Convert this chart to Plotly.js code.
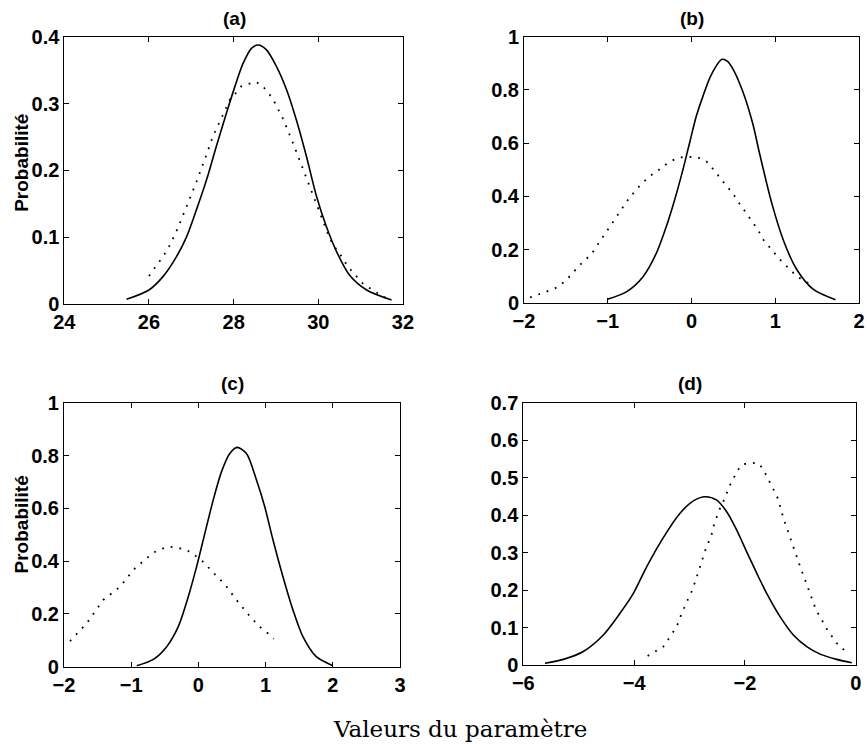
<!DOCTYPE html>
<html>
<head>
<meta charset="utf-8">
<script src="https://cdn.plot.ly/plotly-3.0.1.min.js"></script>
<style>html,body{margin:0;padding:0;background:#fff;}#chart{width:867px;height:744px;}</style>
</head>
<body>
<div id="chart"></div>
<script>
// Panel (a)
var aSolidX = [25.47, 26.0, 26.33, 26.65, 26.89, 27.12, 27.36, 27.59, 27.83, 28.03, 28.22, 28.42, 28.58, 28.77, 29.01, 29.25, 29.48, 29.72, 29.95, 30.19, 30.42, 30.74, 31.14, 31.73];
var aSolidY = [0.007, 0.021, 0.041, 0.071, 0.101, 0.141, 0.186, 0.236, 0.286, 0.326, 0.360, 0.383, 0.388, 0.381, 0.356, 0.321, 0.276, 0.221, 0.163, 0.116, 0.080, 0.043, 0.021, 0.006];
var aDotX = [26.0, 26.12, 26.24, 26.33, 26.44, 26.53, 26.69, 26.83, 26.96, 27.12, 27.32, 27.51, 27.67, 27.91, 28.05, 28.18, 28.52, 28.68, 28.92, 29.09, 29.17, 29.39, 29.48, 29.60, 29.68, 29.81, 29.87, 30.27, 30.38, 30.50, 30.70, 31.06, 31.53, 31.69];
var aDotY = [0.042, 0.052, 0.062, 0.071, 0.082, 0.093, 0.115, 0.137, 0.160, 0.183, 0.217, 0.251, 0.273, 0.306, 0.316, 0.326, 0.333, 0.327, 0.308, 0.288, 0.277, 0.243, 0.228, 0.210, 0.196, 0.176, 0.163, 0.098, 0.086, 0.076, 0.056, 0.030, 0.011, 0.007];
// Panel (b)
var bSolidX = [-1.004, -0.778, -0.579, -0.42, -0.301, -0.202, -0.104, -0.024, 0.056, 0.135, 0.234, 0.365, 0.43, 0.492, 0.611, 0.730, 0.81, 0.958, 1.098, 1.258, 1.459, 1.719];
var bSolidY = [0.014, 0.042, 0.099, 0.187, 0.287, 0.387, 0.499, 0.600, 0.700, 0.775, 0.856, 0.915, 0.907, 0.880, 0.795, 0.675, 0.565, 0.375, 0.235, 0.125, 0.05, 0.0125];
var bDotX = [-1.928, -1.83, -1.647, -1.571, -1.452, -1.333, -1.194, -1.083, -0.976, -0.857, -0.738, -0.627, -0.508, -0.381, -0.262, -0.143, 0.056, 0.175, 0.274, 0.393, 0.492, 0.571, 0.670, 0.789, 0.858, 1.058, 1.258, 1.459];
var bDotY = [0.021, 0.031, 0.0525, 0.065, 0.101, 0.143, 0.184, 0.237, 0.287, 0.339, 0.397, 0.437, 0.474, 0.502, 0.531, 0.547, 0.549, 0.533, 0.497, 0.449, 0.412, 0.374, 0.330, 0.277, 0.2375, 0.1625, 0.1, 0.0625];
// Panel (c)
var cSolidX = [-0.917, -0.67, -0.472, -0.3, -0.151, -0.027, 0.096, 0.22, 0.344, 0.467, 0.576, 0.715, 0.864, 0.987, 1.11, 1.258, 1.407, 1.555, 1.754, 2.0];
var cSolidY = [0.004, 0.028, 0.076, 0.152, 0.265, 0.379, 0.505, 0.631, 0.739, 0.808, 0.831, 0.808, 0.707, 0.606, 0.480, 0.341, 0.215, 0.114, 0.038, 0.004];
var cDotX = [-1.911, -1.663, -1.415, -1.165, -1.016, -0.942, -0.671, -0.561, -0.438, -0.215, -0.111, 0.082, 0.160, 0.319, 0.408, 0.556, 0.626, 0.705, 0.779, 0.864, 0.953, 1.036, 1.12];
var cDotY = [0.097, 0.164, 0.253, 0.303, 0.351, 0.373, 0.432, 0.445, 0.455, 0.446, 0.433, 0.395, 0.373, 0.328, 0.307, 0.256, 0.234, 0.208, 0.187, 0.164, 0.142, 0.126, 0.105];
// Panel (d)
var dSolidX = [-5.609, -5.278, -4.917, -4.556, -4.255, -4.014, -3.774, -3.473, -3.171, -2.931, -2.72, -2.509, -2.329, -2.148, -1.968, -1.787, -1.607, -1.366, -1.126, -0.884, -0.644, -0.343, -0.072];
var dSolidY = [0.0044, 0.015, 0.036, 0.08, 0.138, 0.191, 0.262, 0.340, 0.405, 0.438, 0.449, 0.440, 0.409, 0.360, 0.302, 0.245, 0.191, 0.129, 0.080, 0.049, 0.029, 0.015, 0.006];
var dDotX = [-3.756, -3.473, -3.232, -3.141, -3.02, -2.949, -2.859, -2.769, -2.69, -2.612, -2.552, -2.437, -2.372, -2.269, -2.13, -2.04, -1.776, -1.679, -1.547, -1.415, -1.294, -1.155, -1.018, -0.915, -0.812, -0.716, -0.505, -0.343, -0.224, -0.116];
var dDotY = [0.024, 0.049, 0.102, 0.138, 0.178, 0.200, 0.240, 0.280, 0.318, 0.342, 0.378, 0.423, 0.442, 0.480, 0.520, 0.536, 0.540, 0.525, 0.488, 0.448, 0.387, 0.326, 0.269, 0.227, 0.187, 0.147, 0.092, 0.058, 0.042, 0.029];

var panelTitles = ['(a)', '(b)', '(c)', '(d)'];
var yTitle = 'Probabilité';
var xTitle = 'Valeurs du paramètre';

var SANS = 'Liberation Sans, Arial, Helvetica, sans-serif';
var tickFont = {family: SANS, size: 20, color: '#000', weight: 'bold'};

function solid(x, y, xa, ya) {
  return {x: x, y: y, xaxis: xa, yaxis: ya, mode: 'lines', line: {color: '#000', width: 1.6, shape: 'spline', smoothing: 0.8}, hoverinfo: 'skip', showlegend: false};
}
function dotted(x, y, xa, ya) {
  return {x: x, y: y, xaxis: xa, yaxis: ya, mode: 'lines', line: {color: '#000', width: 1.8, dash: '1.8px,7px'}, hoverinfo: 'skip', showlegend: false};
}

var data = [
  solid(aSolidX, aSolidY, 'x', 'y'), dotted(aDotX, aDotY, 'x', 'y'),
  solid(bSolidX, bSolidY, 'x2', 'y2'), dotted(bDotX, bDotY, 'x2', 'y2'),
  solid(cSolidX, cSolidY, 'x3', 'y3'), dotted(cDotX, cDotY, 'x3', 'y3'),
  solid(dSolidX, dSolidY, 'x4', 'y4'), dotted(dDotX, dDotY, 'x4', 'y4')
];

function ax(domain, range, dtick, anchor) {
  return {
    domain: domain, range: range, dtick: dtick, tick0: 0, anchor: anchor,
    showgrid: false, zeroline: false, showline: true, linecolor: '#000', linewidth: 1,
    mirror: 'ticks', ticks: 'inside', ticklen: 5, tickwidth: 1, tickcolor: '#000',
    tickfont: tickFont, fixedrange: true
  };
}

function title(t, x, y, angle, font) {
  return {text: t, x: x, y: y, xref: 'paper', yref: 'paper', xanchor: 'center', yanchor: 'middle',
          showarrow: false, textangle: angle || 0, font: font};
}
var titleFont = {family: SANS, size: 19, weight: 'bold', color: '#000'};
var yTitleFont = {family: SANS, size: 19, weight: 'bold', color: '#000'};
var xTitleFont = {family: 'DejaVu Serif, serif', size: 23, color: '#000'};

var layout = {
  width: 867, height: 744,
  margin: {l: 0, r: 0, t: 0, b: 0},
  paper_bgcolor: '#fff', plot_bgcolor: '#fff',
  xaxis: ax([0.0742, 0.4648], [24, 32], 2, 'y'),
  yaxis: ax([0.5914, 0.9503], [0, 0.4], 0.1, 'x'),
  xaxis2: ax([0.6044, 0.9908], [-2, 2], 1, 'y2'),
  yaxis2: ax([0.5927, 0.9507], [0, 1], 0.2, 'x2'),
  xaxis3: ax([0.0738, 0.4614], [-2, 3], 1, 'y3'),
  yaxis3: ax([0.1039, 0.4587], [0, 1], 0.2, 'x3'),
  xaxis4: ax([0.6036, 0.9870], [-6, 0], 2, 'y4'),
  yaxis4: ax([0.1062, 0.4587], [0, 0.7], 0.1, 'x4'),
  annotations: [
    title(panelTitles[0], 0.2705, 0.975, 0, titleFont),
    title(panelTitles[1], 0.7976, 0.975, 0, titleFont),
    title(panelTitles[2], 0.2676, 0.484, 0, titleFont),
    title(panelTitles[3], 0.7953, 0.484, 0, titleFont),
    title(yTitle, 0.0248, 0.7805, -90, yTitleFont),
    title(yTitle, 0.0248, 0.2944, -90, yTitleFont),
    title(xTitle, 0.5306, 0.0202, 0, xTitleFont)
  ]
};

Plotly.newPlot('chart', data, layout, {staticPlot: true, displayModeBar: false});
</script>
</body>
</html>
